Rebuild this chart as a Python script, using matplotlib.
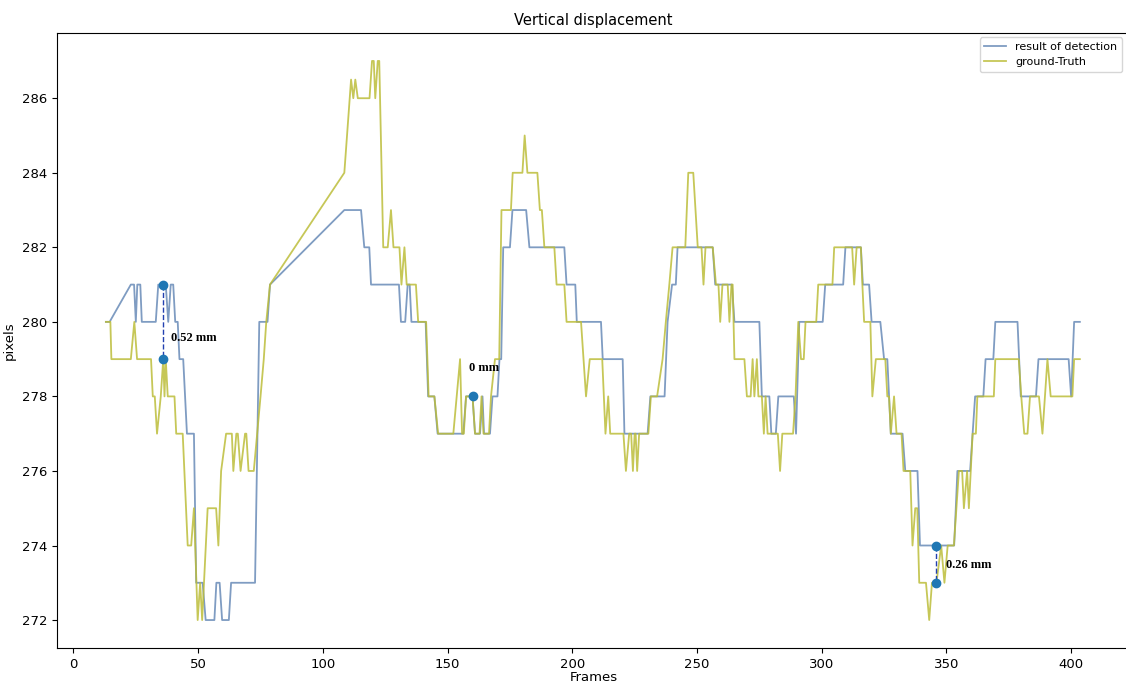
import matplotlib

matplotlib.use("Agg")
import matplotlib.pyplot as plt

# detection result (vertices of the trace, frame -> pixel row)
det_frames = [13, 14.5, 23, 24.3, 25, 25.6, 26.8, 27.4, 33, 34, 37, 38, 39, 40, 40.8, 41.8,
              42.5, 44, 45.5, 48.3, 49.2, 51.8, 53, 56.5, 57.3, 58.6, 59.6, 62.3, 63.2, 72.8,
              74.5, 77.8, 78.8, 108.6, 115.3, 116.6, 118.6, 119.3, 130.5, 131.3, 133, 134,
              134.8, 135.5, 141.2, 142.2, 144.7, 146, 156.3, 157.4, 160, 161, 163, 164, 164.6,
              167, 168, 170, 170.8, 171.5, 172.3, 175, 176, 181.5, 182.8, 196.8, 197.7, 201.2,
              201.8, 211.5, 212.2, 220.2, 220.9, 230.2, 231.3, 237, 238.2, 240, 241.5, 242.2,
              256.3, 257.3, 264, 265, 275, 276, 279, 279.8, 281.6, 282.6, 288.8, 289.7, 291,
              300.4, 301.4, 308.6, 309.5, 315.7, 316.5, 319, 320, 323.5, 325, 326.3, 327.7,
              332.4, 333.5, 338.4, 339.4, 353.1, 354.4, 359.5, 360.5, 361.5, 364.8, 365.7,
              368.8, 369.6, 378.5, 379.8, 385.9, 386.9, 399, 400, 401.2, 403.5]
det_pixels = [280, 280, 281, 281, 280, 281, 281, 280, 280, 281, 281, 280, 281, 281, 280, 280,
              279, 279, 277, 277, 273, 273, 272, 272, 273, 273, 272, 272, 273, 273,
              280, 280, 281, 283, 283, 282, 282, 281, 281, 280, 280, 281,
              281, 280, 280, 278, 278, 277, 277, 278, 278, 277, 277, 278, 277,
              277, 278, 278, 279, 279, 282, 282, 283, 283, 282, 282, 281, 281,
              280, 280, 279, 279, 277, 277, 278, 278, 280, 281, 281, 282,
              282, 281, 281, 280, 280, 278, 278, 277, 277, 278, 278, 277, 280,
              280, 281, 281, 282, 282, 281, 281, 280, 280, 279, 279, 277,
              277, 276, 276, 274, 274, 276, 276, 277, 278, 278, 279,
              279, 280, 280, 278, 278, 279, 279, 278, 280, 280]

# ground truth (vertices of the trace)
gt_frames = [13, 14.8, 15.2, 23, 24.4, 25.5, 31.1, 31.8, 32.6, 33.5, 35, 36, 36.5, 37, 37.8,
             40.5, 41.2, 43.8, 45.8, 47.2, 48.3, 49.8, 50.8, 51.6, 53.8, 57.2, 58.1, 59.2,
             61.2, 63.5, 64.1, 65.3, 65.9, 67, 68.8, 69.3, 70.2, 72.3, 75, 76.3, 77.3, 78.8,
             108.6, 111.3, 112.2, 113, 114, 118.7, 119.7, 120.4, 121, 122, 122.6, 124.2,
             126, 127.3, 128.3, 130.7, 131.5, 132.7, 133.6, 137.3, 138.2, 141.4, 142.4,
             144.7, 146.2, 152.3, 155, 155.8, 156.5, 157.4, 160, 161, 162.8, 163.6, 164.4,
             166.6, 167.4, 169, 170.7, 171.6, 175.4, 176.1, 180, 180.9, 182, 186, 187,
             187.8, 188.8, 192.8, 193.7, 196.8, 197.7, 203.5, 205.5, 207, 212, 213.3,
             214.4, 215.2, 220.5, 221.5, 222.8, 223.6, 224.3, 225, 225.4, 226, 226.8,
             230.5, 231.5, 234, 236.2, 237.5, 238.9, 240.2, 245.3, 246.5, 248.5, 250.3,
             251.8, 252.6, 253.4, 256.3, 257.6, 258.6, 259.3, 260.2, 262.3, 263, 263.8,
             264.3, 265, 269, 270, 271.5, 272.3, 273, 274, 274.6, 276, 276.8, 277.5, 278.3,
             282.4, 283.3, 284.2, 288.5, 289.5, 290.6, 291.7, 292.8, 293.5, 297.8, 298.6,
             304.3, 305, 312.2, 313, 314, 315.7, 316.3, 317, 319.5, 320.3, 321.7, 325.5,
             326.3, 327, 327.7, 329, 330, 332, 332.8, 335.5, 336.4, 337.5, 338.3, 339.1,
             341.8, 343.1, 344.2, 346, 347.9, 349.2, 350.5, 353, 354, 355, 356.3, 357,
             358.3, 359, 360.5, 361.8, 362.4, 369, 369.6, 379, 380, 381.2, 382.5, 383.5,
             387.1, 388.5, 390.5, 391.8, 400.5, 401.2, 403.5]
gt_pixels = [280, 280, 279, 279, 280, 279, 279, 278, 278, 277, 278, 279, 278, 279, 278,
             278, 277, 277, 274, 274, 275, 272, 273, 272, 275, 275, 274, 276,
             277, 277, 276, 277, 277, 276, 277, 277, 276, 276, 278, 279, 280, 281,
             284, 286.5, 286, 286.5, 286, 286, 287, 287, 286, 287, 287, 282,
             282, 283, 282, 282, 281, 282, 281, 281, 280, 280, 278,
             278, 277, 277, 279, 277, 277, 278, 278, 277, 277, 278, 277,
             277, 278, 279, 279, 283, 283, 284, 284, 285, 284, 284, 283,
             283, 282, 282, 281, 281, 280, 280, 278, 279, 279, 277,
             278, 277, 277, 276, 277, 277, 276, 277, 277, 276, 277,
             277, 278, 278, 279, 280, 281, 282, 282, 284, 284, 282,
             282, 281, 282, 282, 281, 281, 280, 281, 281, 280, 281,
             281, 279, 279, 278, 278, 279, 278, 279, 278, 278, 277, 278, 277,
             277, 276, 277, 277, 278, 280, 279, 279, 280, 280, 281,
             281, 282, 282, 281, 282, 282, 281, 280, 280, 278, 279, 279,
             278, 278, 277, 278, 277, 277, 276, 276, 274, 275, 275, 273,
             273, 272, 273, 273, 274, 273, 274, 274, 275, 276, 276, 275,
             276, 275, 277, 277, 278, 278, 279, 279, 278, 277, 277, 278,
             278, 277, 279, 278, 278, 279, 279]

# marked comparisons: frame, detected row, ground-truth row, label
mark_frames = [36, 160, 346]
mark_det = [281, 278, 274]
mark_gt = [279, 278, 273]
mark_labels = ["0.52 mm", "0 mm", "0.26 mm"]
label_pos = [(39.3, 279.57), (158.6, 278.76), (349.7, 273.47)]

fig = plt.figure(figsize=(11.26, 6.84), dpi=100)
ax = fig.add_axes([57 / 1126, 36 / 684, 1073 / 1126, 615 / 684])

ax.plot(det_frames, det_pixels, color="#7f9cc2", linewidth=1.3, label="result of detection")
ax.plot(gt_frames, gt_pixels, color="#bcbd3a", linewidth=1.3, alpha=0.85, label="ground-Truth")

for f, d, g in zip(mark_frames, mark_det, mark_gt):
    if d != g:
        ax.plot([f, f], [d, g], color="#2340b0", linestyle="--", linewidth=1.0)
        ax.scatter([f, f], [d, g], color="#1f77b4", s=36, zorder=5)
    else:
        ax.scatter([f], [d], color="#1f77b4", s=36, zorder=5)

for (tx, ty), txt in zip(label_pos, mark_labels):
    ax.text(tx, ty, txt, fontsize=9, fontweight="bold", family="Liberation Serif",
            va="center", ha="left")

ax.set_xlim(-6.6, 423.6)
ax.set_ylim(271.25, 287.75)
ax.set_xticks(range(0, 401, 50))
ax.set_yticks(range(272, 287, 2))
ax.tick_params(labelsize=9.5)
ax.set_title("Vertical displacement", fontsize=10.5)
ax.set_xlabel("Frames", fontsize=9.5, labelpad=0)
ax.set_ylabel("pixels", fontsize=9.5)
ax.legend(loc="upper left", fontsize=8, bbox_to_anchor=(0.860, 0.993), borderaxespad=0)

fig.savefig("out.png", dpi=100)
plt.close(fig)
